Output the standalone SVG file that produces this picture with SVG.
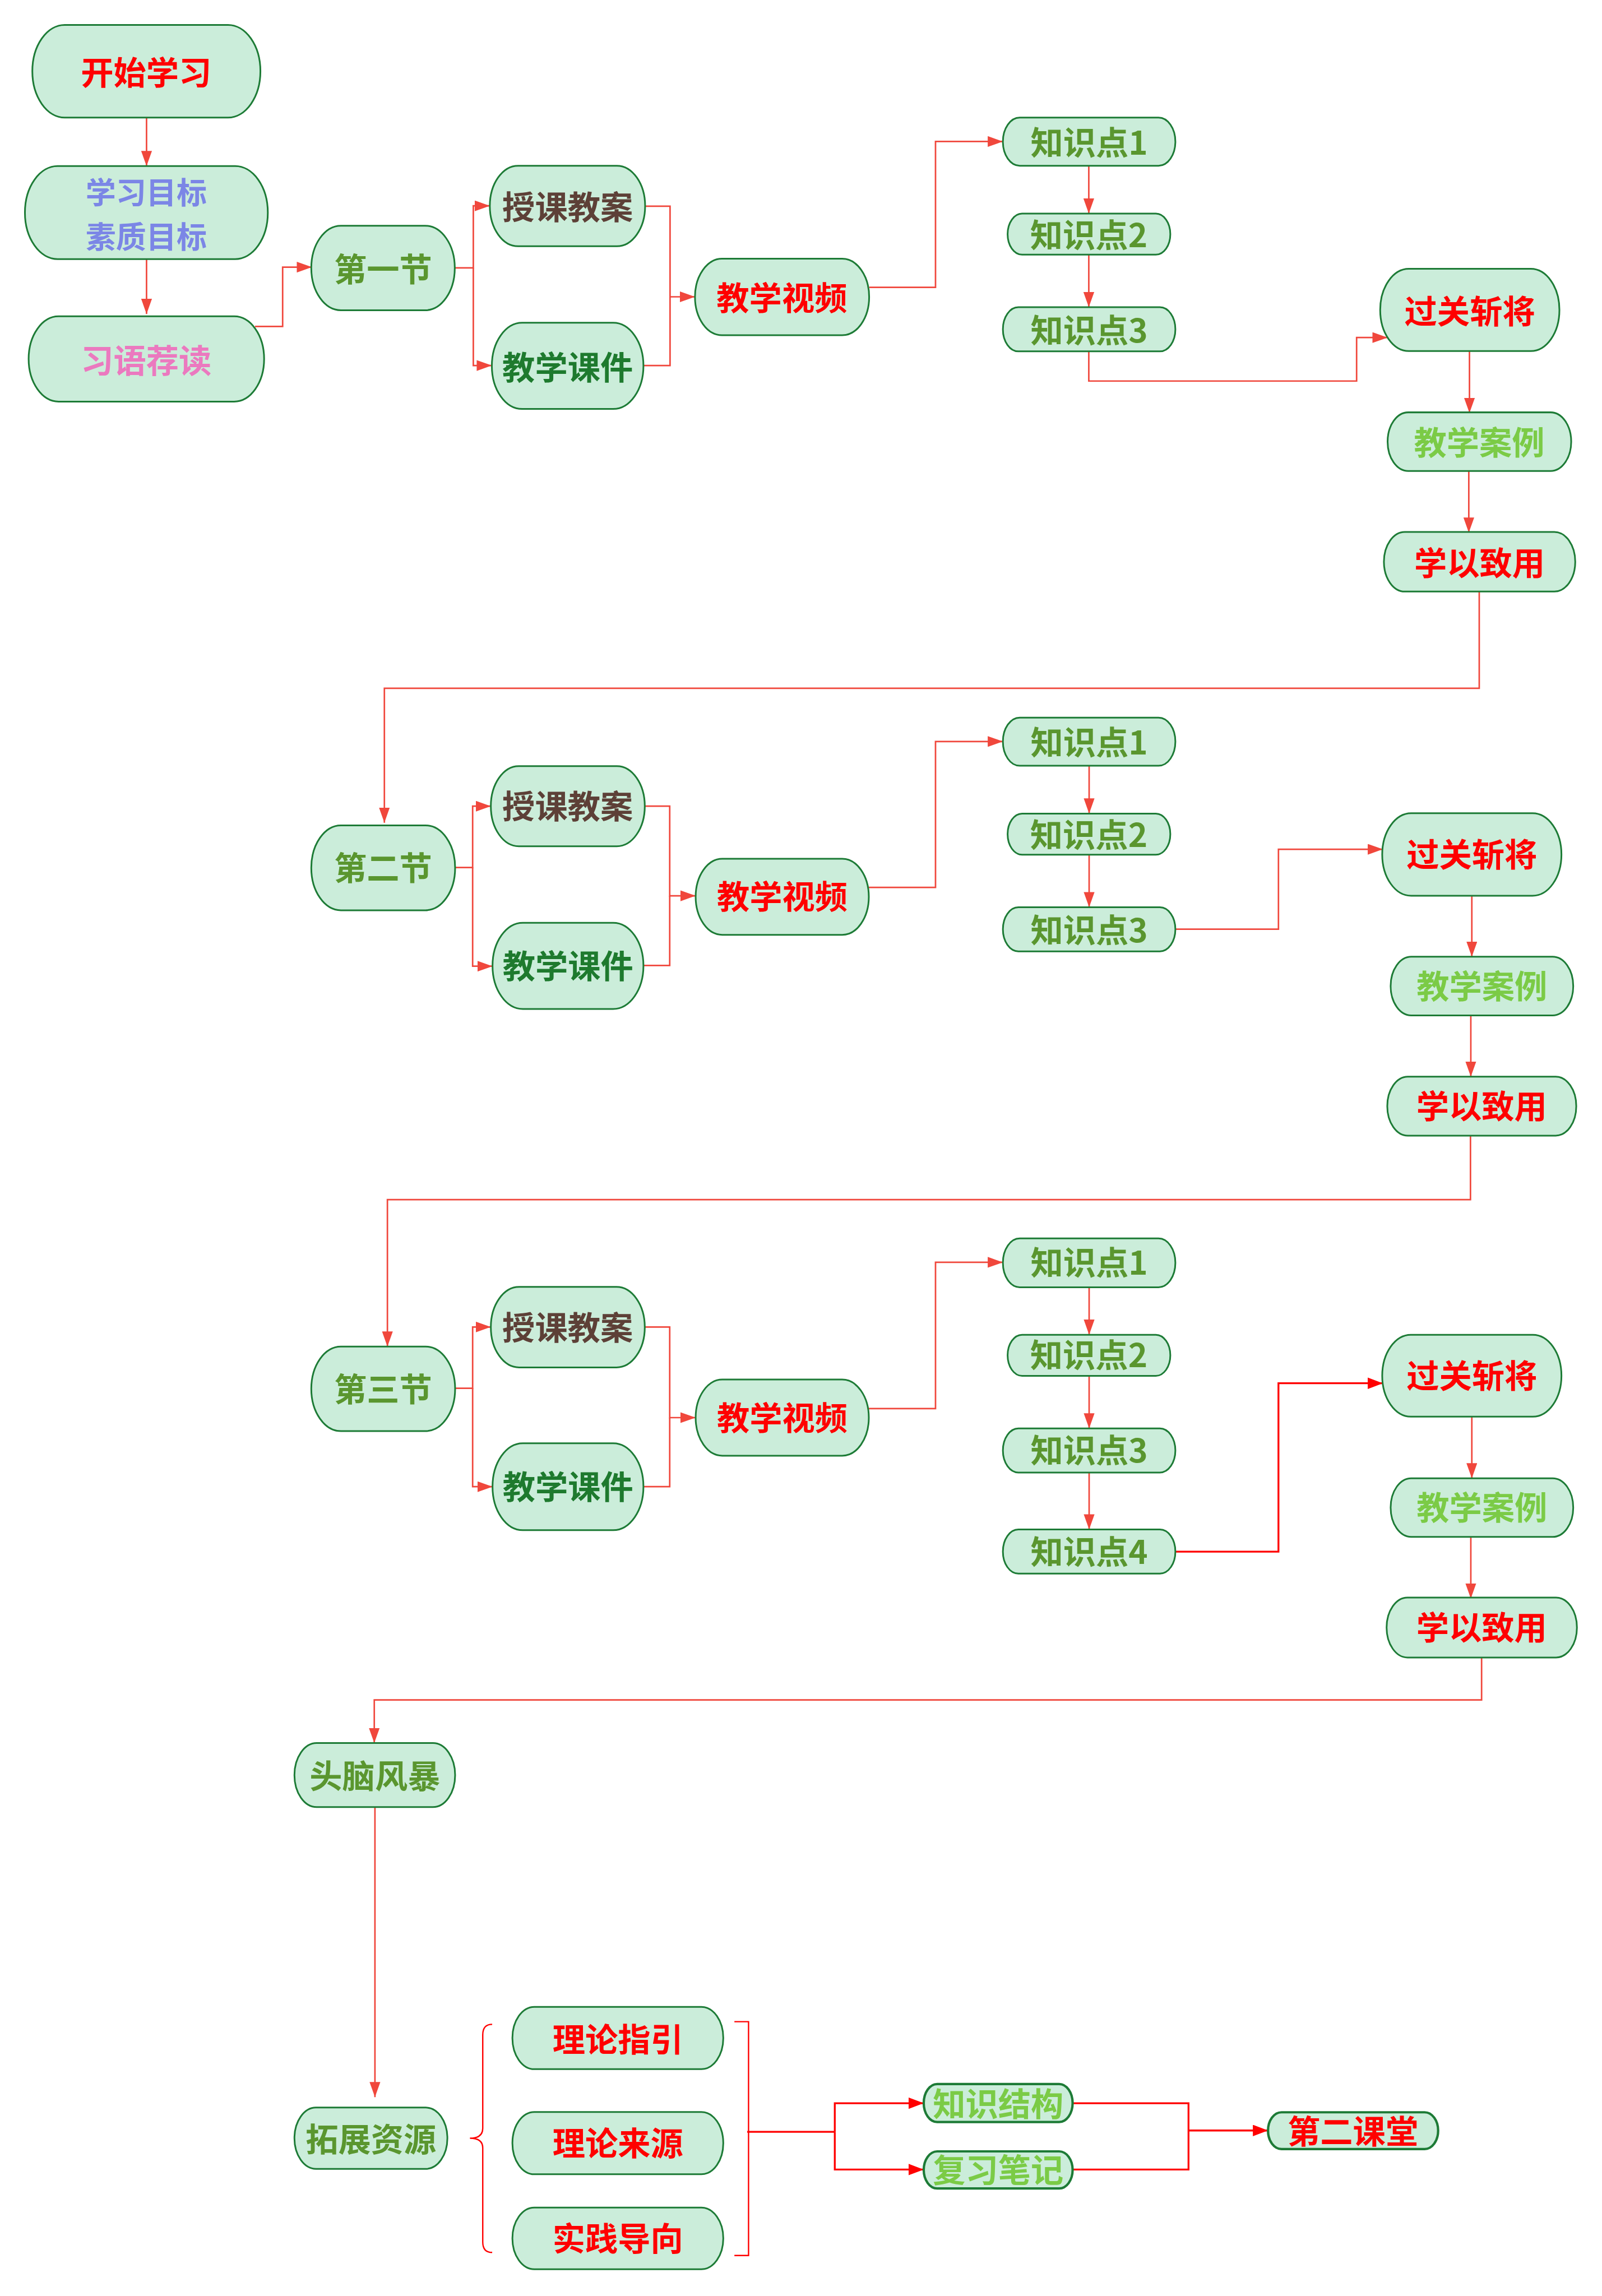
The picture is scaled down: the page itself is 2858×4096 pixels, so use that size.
<svg xmlns="http://www.w3.org/2000/svg" width="2858" height="4096" viewBox="0 0 2858 4096">
<style>
.n{fill:#CBEDDA;stroke:#1D7B36;stroke-width:5}
.nb{fill:#CBEDDA;stroke:#1D7B36;stroke-width:7}
.t{font-family:"Noto Sans CJK SC","Noto Sans",sans-serif;font-weight:700;font-size:97px;text-anchor:middle}
.red{fill:#FF0000}.blue{fill:#7B86E6}.pink{fill:#EB79BF}.olive{fill:#5A962F}.brown{fill:#5D4037}.dg{fill:#1E7A2E}.lg{fill:#7BCB46}
.c{fill:none;stroke:#F0473C;stroke-width:4.5}
.c2{fill:none;stroke:#FF0000;stroke-width:5.5}
</style>
<defs>
<marker id="ah" markerUnits="userSpaceOnUse" markerWidth="46" markerHeight="32" refX="45" refY="16" orient="auto" viewBox="0 0 46 32"><path d="M0,0 L45,16 L0,32 z" fill="#F0473C"/></marker>
<marker id="ah2" markerUnits="userSpaceOnUse" markerWidth="46" markerHeight="34" refX="45" refY="17" orient="auto" viewBox="0 0 46 34"><path d="M0,0 L45,17 L0,34 z" fill="#FF0000"/></marker>
</defs>
<rect width="2858" height="4096" fill="#FFFFFF"/>
<g transform="scale(0.601)">
<g id="connectors">
<path class="c" d="M435,349 V493" marker-end="url(#ah)"/>
<path class="c" d="M435,769 V932" marker-end="url(#ah)"/>
<path class="c" d="M757,969 H839 V793 H926" marker-end="url(#ah)"/>
<path class="c" d="M1350,795 H1405 V611 H1454" marker-end="url(#ah)"/>
<path class="c" d="M1405,795 V1085 H1460" marker-end="url(#ah)"/>
<path class="c" d="M1915,612 H1989 V881 H2063" marker-end="url(#ah)"/>
<path class="c" d="M1910,1085 H1989 V881"/>
<path class="c" d="M2580,853 H2777 V420 H2977" marker-end="url(#ah)"/>
<path class="c" d="M3232,492 V634" marker-end="url(#ah)"/>
<path class="c" d="M3232,756 V912" marker-end="url(#ah)"/>
<path class="c" d="M3232,1043 V1131 H4027 V1002 H4119" marker-end="url(#ah)"/>
<path class="c" d="M4362,1042 V1226" marker-end="url(#ah)"/>
<path class="c" d="M4360,1398 V1581" marker-end="url(#ah)"/>
<path class="c" d="M4391,1756 V2043 H1141 V2442" marker-end="url(#ah)"/>

<path class="c" d="M1351,2575 H1403 V2393 H1457" marker-end="url(#ah)"/>
<path class="c" d="M1403,2575 V2868 H1462" marker-end="url(#ah)"/>
<path class="c" d="M1914,2393 H1988 V2659 H2065" marker-end="url(#ah)"/>
<path class="c" d="M1910,2866 H1988 V2659"/>
<path class="c" d="M2579,2634 H2777 V2201 H2977" marker-end="url(#ah)"/>
<path class="c" d="M3233,2273 V2415" marker-end="url(#ah)"/>
<path class="c" d="M3233,2537 V2693" marker-end="url(#ah)"/>
<path class="c" d="M3486,2758 H3795 V2521 H4105" marker-end="url(#ah)"/>
<path class="c" d="M4369,2659 V2840" marker-end="url(#ah)"/>
<path class="c" d="M4366,3014 V3196" marker-end="url(#ah)"/>
<path class="c" d="M4365,3371 V3561 H1150 V3997" marker-end="url(#ah)"/>

<path class="c" d="M1351,4121 H1403 V3939 H1457" marker-end="url(#ah)"/>
<path class="c" d="M1403,4121 V4413 H1462" marker-end="url(#ah)"/>
<path class="c" d="M1914,3939 H1988 V4208 H2065" marker-end="url(#ah)"/>
<path class="c" d="M1910,4413 H1988 V4208"/>
<path class="c" d="M2579,4181 H2777 V3747 H2977" marker-end="url(#ah)"/>
<path class="c" d="M3233,3821 V3962" marker-end="url(#ah)"/>
<path class="c" d="M3233,4084 V4240" marker-end="url(#ah)"/>
<path class="c" d="M3233,4371 V4540" marker-end="url(#ah)"/>
<path class="c2" d="M3486,4606 H3795 V4106 H4105" marker-end="url(#ah2)"/>
<path class="c" d="M4369,4205 V4388" marker-end="url(#ah)"/>
<path class="c" d="M4366,4562 V4745" marker-end="url(#ah)"/>
<path class="c" d="M4398,4920 V5046 H1111 V5174" marker-end="url(#ah)"/>

<path class="c" d="M1113,5364 V6225" marker-end="url(#ah)"/>
<path class="c2" style="stroke-width:4" d="M1461,6009 Q1433,6009 1433,6040 V6318 Q1433,6347 1395,6347 Q1433,6347 1433,6376 V6655 Q1433,6686 1461,6686"/>
<path class="c2" style="stroke-width:4" d="M2180,6001 H2222 V6695 H2180"/>
<path class="c2" d="M2218,6328 H2478"/>
<path class="c2" d="M2478,6328 V6243 H2742" marker-end="url(#ah2)"/>
<path class="c2" d="M2478,6328 V6440 H2742" marker-end="url(#ah2)"/>
<path class="c2" d="M3184,6243 H3528 V6440 H3184"/>
<path class="c2" d="M3528,6324 H3764" marker-end="url(#ah2)"/>
</g>

<g id="n1"><rect class="n" x="96" y="74" width="677" height="275" rx="96" ry="137.5"/><text class="t red" x="434" y="252">开始学习</text></g>
<g id="n2"><rect class="n" x="74" y="493" width="721" height="276" rx="97" ry="138"/><text class="t blue" x="434" y="605" style="font-size:90px">学习目标</text><text class="t blue" x="434" y="737" style="font-size:90px">素质目标</text></g>
<g id="n3"><rect class="n" x="85" y="939" width="699" height="253" rx="89" ry="126.5"/><text class="t pink" x="434" y="1106">习语荐读</text></g>
<g id="n4"><rect class="n" x="924" y="670" width="426" height="251" rx="88" ry="125.5"/><text class="t olive" x="1137" y="835">第一节</text></g>
<g id="n5"><rect class="n" x="1454" y="492" width="461" height="239" rx="84" ry="119.5"/><text class="t brown" x="1685" y="651">授课教案</text></g>
<g id="n6"><rect class="n" x="1460" y="958" width="450" height="256" rx="90" ry="128"/><text class="t dg" x="1685" y="1126">教学课件</text></g>
<g id="n7"><rect class="n" x="2063" y="768" width="517" height="227" rx="80" ry="113.5"/><text class="t red" x="2321" y="920">教学视频</text></g>
<g id="n8"><rect class="n" x="2977" y="349" width="512" height="143" rx="50" ry="71.5"/><text class="t olive" x="3233" y="459">知识点1</text></g>
<g id="n9"><rect class="n" x="2991" y="634" width="483" height="122" rx="43" ry="61"/><text class="t olive" x="3232" y="733">知识点2</text></g>
<g id="n10"><rect class="n" x="2977" y="912" width="512" height="131" rx="46" ry="65.5"/><text class="t olive" x="3233" y="1016">知识点3</text></g>
<g id="n11"><rect class="n" x="4097" y="798" width="532" height="244" rx="85" ry="122"/><text class="t red" x="4363" y="960">过关斩将</text></g>
<g id="n12"><rect class="n" x="4119" y="1224" width="545" height="174" rx="61" ry="87"/><text class="t lg" x="4391" y="1350">教学案例</text></g>
<g id="n13"><rect class="n" x="4108" y="1579" width="568" height="177" rx="62" ry="88.5"/><text class="t red" x="4392" y="1707">学以致用</text></g>

<g id="n14"><rect class="n" x="924" y="2450" width="427" height="252" rx="88" ry="126"/><text class="t olive" x="1137" y="2612">第二节</text></g>
<g id="n15"><rect class="n" x="1457" y="2274" width="457" height="238" rx="83" ry="119"/><text class="t brown" x="1685" y="2429">授课教案</text></g>
<g id="n16"><rect class="n" x="1462" y="2739" width="448" height="256" rx="90" ry="128"/><text class="t dg" x="1686" y="2903">教学课件</text></g>
<g id="n17"><rect class="n" x="2065" y="2549" width="514" height="226" rx="79" ry="113"/><text class="t red" x="2322" y="2698">教学视频</text></g>
<g id="n18"><rect class="n" x="2977" y="2130" width="512" height="143" rx="50" ry="71.5"/><text class="t olive" x="3233" y="2240">知识点1</text></g>
<g id="n19"><rect class="n" x="2991" y="2415" width="483" height="122" rx="43" ry="61"/><text class="t olive" x="3232" y="2514">知识点2</text></g>
<g id="n20"><rect class="n" x="2977" y="2693" width="512" height="131" rx="46" ry="65.5"/><text class="t olive" x="3233" y="2797">知识点3</text></g>
<g id="n21"><rect class="n" x="4103" y="2414" width="532" height="245" rx="86" ry="122.5"/><text class="t red" x="4369" y="2573">过关斩将</text></g>
<g id="n22"><rect class="n" x="4128" y="2840" width="542" height="174" rx="61" ry="87"/><text class="t lg" x="4399" y="2963">教学案例</text></g>
<g id="n23"><rect class="n" x="4118" y="3196" width="561" height="175" rx="61" ry="87.5"/><text class="t red" x="4398" y="3319">学以致用</text></g>

<g id="n24"><rect class="n" x="924" y="3997" width="427" height="251" rx="88" ry="125.5"/><text class="t olive" x="1137" y="4159">第三节</text></g>
<g id="n25"><rect class="n" x="1457" y="3820" width="457" height="239" rx="84" ry="119.5"/><text class="t brown" x="1685" y="3976">授课教案</text></g>
<g id="n26"><rect class="n" x="1462" y="4284" width="448" height="258" rx="90" ry="129"/><text class="t dg" x="1686" y="4449">教学课件</text></g>
<g id="n27"><rect class="n" x="2065" y="4095" width="514" height="226" rx="79" ry="113"/><text class="t red" x="2322" y="4244">教学视频</text></g>
<g id="n28"><rect class="n" x="2977" y="3676" width="512" height="145" rx="50" ry="72.5"/><text class="t olive" x="3233" y="3784">知识点1</text></g>
<g id="n29"><rect class="n" x="2991" y="3962" width="483" height="122" rx="43" ry="61"/><text class="t olive" x="3232" y="4059">知识点2</text></g>
<g id="n30"><rect class="n" x="2977" y="4240" width="512" height="131" rx="46" ry="65.5"/><text class="t olive" x="3233" y="4341">知识点3</text></g>
<g id="n31"><rect class="n" x="2977" y="4540" width="512" height="131" rx="46" ry="65.5"/><text class="t olive" x="3233" y="4642">知识点4</text></g>
<g id="n32"><rect class="n" x="4103" y="3962" width="532" height="243" rx="85" ry="121.5"/><text class="t red" x="4369" y="4119">过关斩将</text></g>
<g id="n33"><rect class="n" x="4128" y="4388" width="542" height="174" rx="61" ry="87"/><text class="t lg" x="4399" y="4511">教学案例</text></g>
<g id="n34"><rect class="n" x="4116" y="4742" width="565" height="178" rx="62" ry="89"/><text class="t red" x="4398" y="4867">学以致用</text></g>

<g id="n35"><rect class="n" x="874" y="5174" width="477" height="190" rx="66" ry="95"/><text class="t olive" x="1113" y="5308">头脑风暴</text></g>
<g id="n36"><rect class="n" x="874" y="6256" width="454" height="182" rx="64" ry="91"/><text class="t olive" x="1101" y="6386">拓展资源</text></g>
<g id="n37"><rect class="n" x="1521" y="5957" width="626" height="185" rx="65" ry="92.5"/><text class="t red" x="1834" y="6090">理论指引</text></g>
<g id="n38"><rect class="n" x="1521" y="6269" width="626" height="185" rx="65" ry="92.5"/><text class="t red" x="1834" y="6398">理论来源</text></g>
<g id="n39"><rect class="n" x="1521" y="6553" width="626" height="183" rx="65" ry="91.5"/><text class="t red" x="1834" y="6681">实践导向</text></g>
<g id="n40"><rect class="nb" x="2742" y="6186" width="442" height="113" rx="40" ry="56.5"/><text class="t lg" x="2963" y="6281">知识结构</text></g>
<g id="n41"><rect class="nb" x="2742" y="6386" width="442" height="110" rx="40" ry="55"/><text class="t lg" x="2963" y="6477">复习笔记</text></g>
<g id="n42"><rect class="nb" x="3764" y="6270" width="505" height="109" rx="40" ry="54.5"/><text class="t red" x="4016" y="6363">第二课堂</text></g>
</g>
</svg>
